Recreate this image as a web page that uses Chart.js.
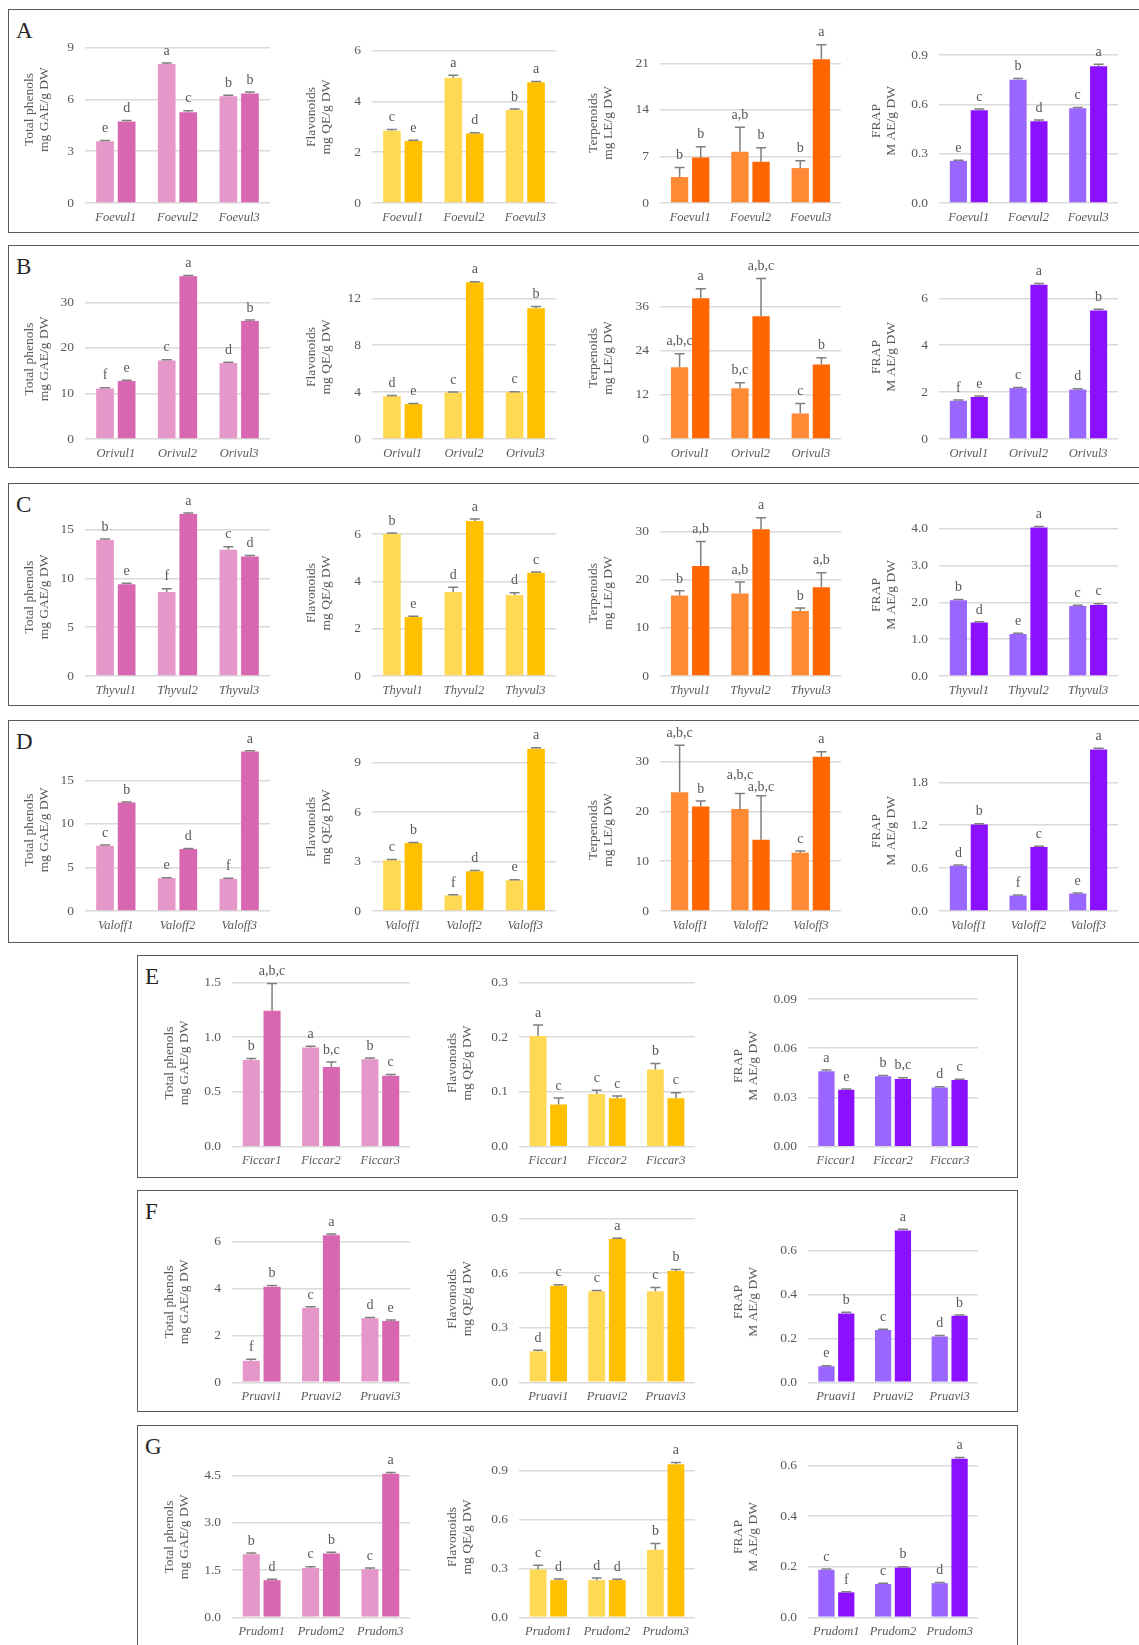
<!DOCTYPE html>
<html>
<head>
<meta charset="utf-8">
<script src="https://cdn.jsdelivr.net/npm/chart.js@4.4.1/dist/chart.umd.min.js"></script>
<style>
  body { margin: 0; width: 1139px; height: 1645px; background: #fff; position: relative; overflow: hidden; font-family: "Liberation Serif", serif; }
  .box { position: absolute; border: 1.5px solid #595959; box-sizing: border-box; }
  .tag { position: absolute; font-size: 23px; line-height: 1; color: #262626; }
  canvas { position: absolute; }
</style>
</head>
<body>
<script>
// ---- data ----
const foevulCats = ['Foevul1', 'Foevul2', 'Foevul3'];
const orivulCats = ['Orivul1', 'Orivul2', 'Orivul3'];
const thyvulCats = ['Thyvul1', 'Thyvul2', 'Thyvul3'];
const valoffCats = ['Valoff1', 'Valoff2', 'Valoff3'];
const ficcarCats = ['Ficcar1', 'Ficcar2', 'Ficcar3'];
const pruaviCats = ['Pruavi1', 'Pruavi2', 'Pruavi3'];
const prudomCats = ['Prudom1', 'Prudom2', 'Prudom3'];

// [top tick, step, decimals] per chart
const foevulAxis = [[9, 3, 0], [6, 2, 0], [21, 7, 0], [0.9, 0.3, 1]];
const orivulAxis = [[30, 10, 0], [12, 4, 0], [36, 12, 0], [6, 2, 0]];
const thyvulAxis = [[15, 5, 0], [6, 2, 0], [30, 10, 0], [4, 1, 1]];
const valoffAxis = [[15, 5, 0], [9, 3, 0], [30, 10, 0], [1.8, 0.6, 1]];
const ficcarAxis = [[1.5, 0.5, 1], [0.3, 0.1, 1], [0.09, 0.03, 2]];
const pruaviAxis = [[6, 2, 0], [0.9, 0.3, 1], [0.6, 0.2, 1]];
const prudomAxis = [[4.5, 1.5, 1], [0.9, 0.3, 1], [0.6, 0.2, 1]];

// each: [first bar of each sample, second bar of each sample]
const foevulPhen = [[3.57, 8.05, 6.19], [4.72, 5.26, 6.34]];
const foevulPhenErr = [[0.05, 0.06, 0.05], [0.06, 0.08, 0.09]];
const foevulPhenSig = [['e', 'a', 'b'], ['d', 'c', 'b']];
const foevulFlav = [[2.85, 4.93, 3.66], [2.44, 2.74, 4.76]];
const foevulFlavErr = [[0.05, 0.1, 0.04], [0.03, 0.03, 0.03]];
const foevulFlavSig = [['c', 'a', 'b'], ['e', 'd', 'a']];
const foevulTerp = [[3.9, 7.7, 5.25], [6.85, 6.2, 21.6]];
const foevulTerpErr = [[1.45, 3.7, 1.1], [1.6, 2.1, 2.2]];
const foevulTerpSig = [['b', 'a,b', 'b'], ['b', 'b', 'a']];
const foevulFrap = [[0.256, 0.749, 0.576], [0.564, 0.497, 0.831]];
const foevulFrapErr = [[0.004, 0.008, 0.004], [0.008, 0.008, 0.012]];
const foevulFrapSig = [['e', 'b', 'c'], ['c', 'd', 'a']];

const orivulPhen = [[11.1, 17.25, 16.7], [12.75, 35.7, 25.9]];
const orivulPhenErr = [[0.15, 0.15, 0.15], [0.15, 0.2, 0.2]];
const orivulPhenSig = [['f', 'c', 'd'], ['e', 'a', 'b']];
const orivulFlav = [[3.66, 3.97, 4.0], [2.98, 13.36, 11.15]];
const orivulFlavErr = [[0.06, 0.04, 0.04], [0.04, 0.05, 0.15]];
const orivulFlavSig = [['d', 'c', 'c'], ['e', 'a', 'b']];
const orivulTerp = [[19.5, 13.8, 6.95], [38.3, 33.4, 20.3]];
const orivulTerpErr = [[3.7, 1.5, 2.7], [2.6, 10.3, 1.8]];
const orivulTerpSig = [['a,b,c', 'b,c', 'c'], ['a', 'a,b,c', 'b']];
const orivulFrap = [[1.63, 2.17, 2.11], [1.79, 6.58, 5.48]];
const orivulFrapErr = [[0.03, 0.03, 0.03], [0.04, 0.05, 0.05]];
const orivulFrapSig = [['f', 'c', 'd'], ['e', 'a', 'b']];

const thyvulPhen = [[13.95, 8.6, 12.95], [9.4, 16.6, 12.25]];
const thyvulPhenErr = [[0.1, 0.35, 0.3], [0.1, 0.1, 0.1]];
const thyvulPhenSig = [['b', 'f', 'c'], ['e', 'a', 'd']];
const thyvulFlav = [[6.0, 3.55, 3.42], [2.49, 6.55, 4.36]];
const thyvulFlavErr = [[0.04, 0.2, 0.1], [0.03, 0.08, 0.03]];
const thyvulFlavSig = [['b', 'd', 'd'], ['e', 'a', 'c']];
const thyvulTerp = [[16.7, 17.1, 13.5], [22.8, 30.4, 18.4]];
const thyvulTerpErr = [[0.95, 2.4, 0.6], [5.1, 2.4, 3.0]];
const thyvulTerpSig = [['b', 'a,b', 'b'], ['a,b', 'a', 'a,b']];
const thyvulFrap = [[2.06, 1.14, 1.9], [1.45, 4.03, 1.93]];
const thyvulFrapErr = [[0.02, 0.02, 0.02], [0.02, 0.03, 0.03]];
const thyvulFrapSig = [['b', 'e', 'c'], ['d', 'a', 'c']];

const valoffPhen = [[7.5, 3.77, 3.69], [12.46, 7.12, 18.3]];
const valoffPhenErr = [[0.08, 0.06, 0.06], [0.06, 0.06, 0.08]];
const valoffPhenSig = [['c', 'e', 'f'], ['b', 'd', 'a']];
const valoffFlav = [[3.08, 0.95, 1.87], [4.12, 2.41, 9.85]];
const valoffFlavErr = [[0.04, 0.03, 0.03], [0.03, 0.05, 0.06]];
const valoffFlavSig = [['c', 'f', 'e'], ['b', 'd', 'a']];
const valoffTerp = [[23.85, 20.5, 11.7], [21.0, 14.3, 31.0]];
const valoffTerpErr = [[9.45, 3.1, 0.35], [1.1, 8.85, 1.0]];
const valoffTerpSig = [['a,b,c', 'a,b,c', 'c'], ['b', 'a,b,c', 'a']];
const valoffFrap = [[0.633, 0.216, 0.244], [1.21, 0.895, 2.26]];
const valoffFrapErr = [[0.01, 0.008, 0.008], [0.01, 0.01, 0.015]];
const valoffFrapSig = [['d', 'f', 'e'], ['b', 'c', 'a']];

const ficcarPhen = [[0.79, 0.906, 0.797], [1.24, 0.727, 0.648]];
const ficcarPhenErr = [[0.015, 0.01, 0.012], [0.25, 0.045, 0.01]];
const ficcarPhenSig = [['b', 'a', 'b'], ['a,b,c', 'b,c', 'c']];
const ficcarFlav = [[0.202, 0.096, 0.141], [0.077, 0.0885, 0.0885]];
const ficcarFlavErr = [[0.02, 0.007, 0.011], [0.012, 0.004, 0.01]];
const ficcarFlavSig = [['a', 'c', 'b'], ['c', 'c', 'c']];
const ficcarFrap = [[0.0459, 0.0429, 0.0361], [0.0347, 0.0412, 0.0406]];
const ficcarFrapErr = [[0.0008, 0.0005, 0.0005], [0.0005, 0.0008, 0.0005]];
const ficcarFrapSig = [['a', 'b', 'd'], ['e', 'b,c', 'c']];

const pruaviPhen = [[0.915, 3.18, 2.73], [4.08, 6.28, 2.62]];
const pruaviPhenErr = [[0.07, 0.04, 0.04], [0.05, 0.05, 0.04]];
const pruaviPhenSig = [['f', 'c', 'd'], ['b', 'a', 'e']];
const pruaviFlav = [[0.17, 0.5, 0.5], [0.53, 0.787, 0.611]];
const pruaviFlavErr = [[0.006, 0.004, 0.02], [0.005, 0.004, 0.008]];
const pruaviFlavSig = [['d', 'c', 'c'], ['c', 'a', 'b']];
const pruaviFrap = [[0.073, 0.238, 0.209], [0.314, 0.692, 0.303]];
const pruaviFrapErr = [[0.003, 0.004, 0.004], [0.005, 0.006, 0.004]];
const pruaviFrapSig = [['e', 'c', 'd'], ['b', 'a', 'b']];

const prudomPhen = [[2.0, 1.57, 1.53], [1.18, 2.03, 4.56]];
const prudomPhenErr = [[0.04, 0.04, 0.04], [0.03, 0.04, 0.04]];
const prudomPhenSig = [['b', 'c', 'c'], ['d', 'b', 'a']];
const prudomFlav = [[0.294, 0.228, 0.414], [0.228, 0.228, 0.94]];
const prudomFlavErr = [[0.025, 0.014, 0.039], [0.007, 0.006, 0.01]];
const prudomFlavSig = [['c', 'd', 'b'], ['d', 'd', 'a']];
const prudomFrap = [[0.188, 0.132, 0.135], [0.0987, 0.197, 0.628]];
const prudomFrapErr = [[0.003, 0.003, 0.003], [0.002, 0.003, 0.004]];
const prudomFrapSig = [['c', 'c', 'd'], ['f', 'b', 'a']];

// ---- look ----
const kinds = {
  phen: { title: ['Total phenols', 'mg GAE/g DW'], colors: ['#E597C9', '#D966B0'] },
  flav: { title: ['Flavonoids', 'mg QE/g DW'], colors: ['#FFD954', '#FFC000'] },
  terp: { title: ['Terpenoids', 'mg LE/g DW'], colors: ['#FF8A35', '#FF6600'] },
  frap: { title: ['FRAP', 'M AE/g DW'], colors: ['#9966FF', '#8B10FF'] }
};
const GREY = '#595959';
const SERIF = '"Liberation Serif", "Times New Roman", serif';

// [title x, plot left, plot right] in page pixels
const colsAD = [[29, 85, 270], [311, 372, 556], [593, 660, 841], [876, 939, 1118]];
const colsEG = [[169, 232, 410], [452, 519, 695], [738, 808, 978]];

// letters the figure moved by hand: px lifted above the default spot
const labelLift = { D2: [[0, 6, 0], [0, -4, 0]] };

const rows = [
  { tag: 'A', box: [8, 9, 1160, 233], zero: 203, tops: [46.7, 50.7, 63.3, 55], mids: [109, 117, 123, 121],
    cols: colsAD, cats: foevulCats, axis: foevulAxis,
    kinds: ['phen', 'flav', 'terp', 'frap'],
    vals: [foevulPhen, foevulFlav, foevulTerp, foevulFrap],
    err: [foevulPhenErr, foevulFlavErr, foevulTerpErr, foevulFrapErr],
    sig: [foevulPhenSig, foevulFlavSig, foevulTerpSig, foevulFrapSig] },
  { tag: 'B', box: [8, 245, 1160, 468], zero: 439, tops: [302.3, 298.3, 306.7, 298.3], mids: [359, 357, 358, 357],
    cols: colsAD, cats: orivulCats, axis: orivulAxis,
    kinds: ['phen', 'flav', 'terp', 'frap'],
    vals: [orivulPhen, orivulFlav, orivulTerp, orivulFrap],
    err: [orivulPhenErr, orivulFlavErr, orivulTerpErr, orivulFrapErr],
    sig: [orivulPhenSig, orivulFlavSig, orivulTerpSig, orivulFrapSig] },
  { tag: 'C', box: [8, 483, 1160, 706], zero: 676, tops: [529.7, 534, 531.3, 528.7], mids: [597, 593, 593, 595],
    cols: colsAD, cats: thyvulCats, axis: thyvulAxis,
    kinds: ['phen', 'flav', 'terp', 'frap'],
    vals: [thyvulPhen, thyvulFlav, thyvulTerp, thyvulFrap],
    err: [thyvulPhenErr, thyvulFlavErr, thyvulTerpErr, thyvulFrapErr],
    sig: [thyvulPhenSig, thyvulFlavSig, thyvulTerpSig, thyvulFrapSig] },
  { tag: 'D', box: [8, 720, 1160, 943], zero: 911, tops: [780.3, 762.7, 761.7, 782.3], mids: [830, 827, 830, 831],
    cols: colsAD, cats: valoffCats, axis: valoffAxis,
    kinds: ['phen', 'flav', 'terp', 'frap'],
    vals: [valoffPhen, valoffFlav, valoffTerp, valoffFrap],
    err: [valoffPhenErr, valoffFlavErr, valoffTerpErr, valoffFrapErr],
    sig: [valoffPhenSig, valoffFlavSig, valoffTerpSig, valoffFrapSig] },
  { tag: 'E', box: [137, 955, 1018, 1178], zero: 1146.7, tops: [982.3, 982.3, 999], mids: [1067, 1065, 1066],
    cols: colsEG, cats: ficcarCats, axis: ficcarAxis,
    kinds: ['phen', 'flav', 'frap'],
    vals: [ficcarPhen, ficcarFlav, ficcarFrap],
    err: [ficcarPhenErr, ficcarFlavErr, ficcarFrapErr],
    sig: [ficcarPhenSig, ficcarFlavSig, ficcarFrapSig] },
  { tag: 'F', box: [137, 1190, 1018, 1412], zero: 1382.3, tops: [1241.7, 1218.3, 1250.7], mids: [1302, 1301, 1302],
    cols: colsEG, cats: pruaviCats, axis: pruaviAxis,
    kinds: ['phen', 'flav', 'frap'],
    vals: [pruaviPhen, pruaviFlav, pruaviFrap],
    err: [pruaviPhenErr, pruaviFlavErr, pruaviFrapErr],
    sig: [pruaviPhenSig, pruaviFlavSig, pruaviFrapSig] },
  { tag: 'G', box: [137, 1425, 1018, 1660], zero: 1617.3, tops: [1475.7, 1470.7, 1465.7], mids: [1537, 1537, 1537],
    cols: colsEG, cats: prudomCats, axis: prudomAxis,
    kinds: ['phen', 'flav', 'frap'],
    vals: [prudomPhen, prudomFlav, prudomFrap],
    err: [prudomPhenErr, prudomFlavErr, prudomFrapErr],
    sig: [prudomPhenSig, prudomFlavSig, prudomFrapSig] }
];

// error bars (plus side only) and significance letters
function marks(err, sig, lift) {
  return {
    id: 'marks',
    afterDatasetsDraw(chart) {
      const ctx = chart.ctx, y = chart.scales.y;
      chart.data.datasets.forEach((ds, i) => {
        chart.getDatasetMeta(i).data.forEach((bar, j) => {
          const base = y.getPixelForValue(ds.data[j]);
          const top = y.getPixelForValue(ds.data[j] + err[i][j]);
          ctx.save();
          ctx.strokeStyle = '#7F7F7F';
          ctx.lineWidth = 1.5;
          ctx.beginPath();
          ctx.moveTo(bar.x, base);
          ctx.lineTo(bar.x, top);
          ctx.moveTo(bar.x - 5, top);
          ctx.lineTo(bar.x + 5, top);
          ctx.stroke();
          ctx.fillStyle = GREY;
          ctx.font = '14px ' + SERIF;
          ctx.textAlign = 'center';
          ctx.textBaseline = 'bottom';
          ctx.fillText(sig[i][j], bar.x, top - 5 - (lift ? lift[i][j] : 0));
          ctx.restore();
        });
      });
    }
  };
}

function drawChart(row, k) {
  const [tx, pl, pr] = row.cols[k];
  const kind = kinds[row.kinds[k]];
  const [tick, step, dec] = row.axis[k];
  const cTop = row.box[1] - 12;
  const cBot = Math.min(row.box[3] - 2, 1645);
  const cLeft = Math.round(tx - 7);
  const cRight = Math.round(pr + 6);
  const xH = 28;
  // plot area centred on the axis title, as in the figure, but never below the top tick
  const plotTop = Math.min(2 * row.mids[k] - row.zero, row.tops[k] - 3);
  const yMax = tick * (row.zero - plotTop) / (row.zero - row.tops[k]);

  const cv = document.createElement('canvas');
  cv.width = cRight - cLeft;
  cv.height = cBot - cTop;
  cv.style.left = cLeft + 'px';
  cv.style.top = cTop + 'px';
  document.body.appendChild(cv);

  const vals = row.vals[k];
  new Chart(cv, {
    type: 'bar',
    data: {
      labels: row.cats,
      datasets: vals.map((v, i) => ({
        data: v,
        backgroundColor: kind.colors[i],
        categoryPercentage: 0.7,
        barPercentage: 0.82,
        clip: false
      }))
    },
    plugins: [marks(row.err[k], row.sig[k], labelLift[row.tag + k])],
    options: {
      responsive: false,
      animation: false,
      devicePixelRatio: 1,
      layout: { padding: { top: plotTop - cTop, bottom: cBot - row.zero - xH, left: 0, right: cRight - pr } },
      plugins: { legend: { display: false }, tooltip: { enabled: false } },
      scales: {
        x: {
          grid: { display: false, drawTicks: false },
          border: { display: false },
          ticks: { color: GREY, padding: 7, font: { family: SERIF, size: 12.5, style: 'italic' } },
          afterFit: s => { s.height = xH; }
        },
        y: {
          min: 0,
          max: yMax,
          grid: { color: '#DADADA', lineWidth: 1.5, drawTicks: false },
          border: { display: false },
          ticks: {
            stepSize: step,
            includeBounds: false,
            padding: 11,
            color: GREY,
            font: { family: SERIF, size: 13.5 },
            callback: v => Number(v).toFixed(dec)
          },
          title: {
            display: true,
            text: kind.title,
            color: GREY,
            padding: { top: 0, bottom: 0 },
            font: { family: SERIF, size: 13.5, lineHeight: 1.1 }
          },
          afterFit: s => { s.width = pl - cLeft; }
        }
      }
    }
  });
}

rows.forEach(row => {
  const [x0, y0, x1, y1] = row.box;
  const box = document.createElement('div');
  box.className = 'box';
  box.style.left = x0 + 'px';
  box.style.top = y0 + 'px';
  box.style.width = (x1 - x0) + 'px';
  box.style.height = (y1 - y0) + 'px';
  document.body.appendChild(box);

  const tag = document.createElement('div');
  tag.className = 'tag';
  tag.textContent = row.tag;
  tag.style.left = (x0 + 8) + 'px';
  tag.style.top = (y0 + 10) + 'px';
  document.body.appendChild(tag);

  row.kinds.forEach((_, k) => drawChart(row, k));
});
</script>
</body>
</html>
